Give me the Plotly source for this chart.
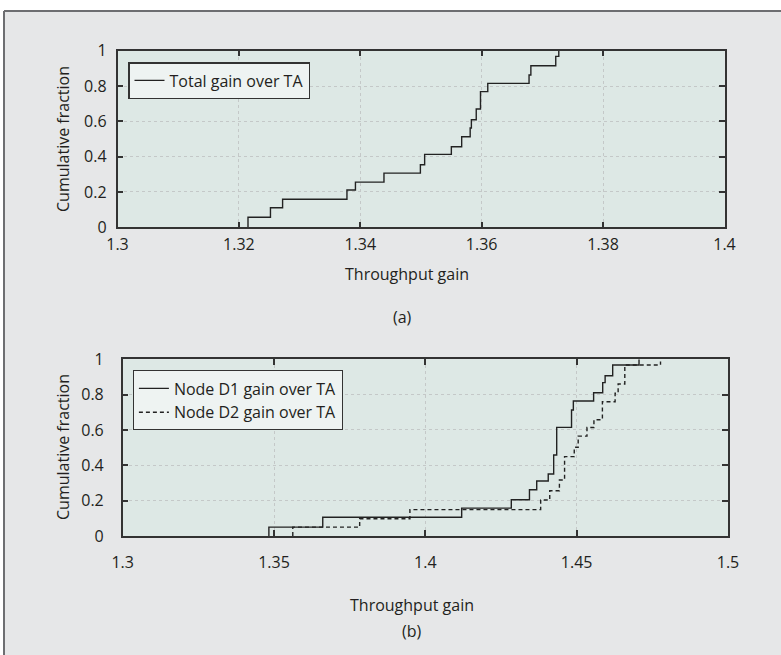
import plotly.graph_objects as go

# ---- data ----
top_gain = [1.3215, 1.3252, 1.3272, 1.3378, 1.3392, 1.3439, 1.3499, 1.3506, 1.3550, 1.3567,
            1.3581, 1.3583, 1.3591, 1.3598, 1.3610, 1.3678, 1.3681, 1.3722, 1.3727]
top_frac = [0.057, 0.111, 0.159, 0.211, 0.256, 0.307, 0.354, 0.413, 0.456, 0.513,
            0.562, 0.609, 0.67, 0.768, 0.815, 0.862, 0.915, 0.968, 1.0]

d1_gain = [1.3483, 1.3661, 1.4120, 1.4284, 1.4344, 1.4368, 1.4406, 1.4424, 1.4434, 1.4483,
           1.4489, 1.4556, 1.4586, 1.4594, 1.4619, 1.4706]
d1_frac = [0.05, 0.106, 0.158, 0.205, 0.262, 0.311, 0.351, 0.458, 0.615, 0.713,
           0.764, 0.811, 0.868, 0.907, 0.968, 1.0]

d2_gain = [1.3562, 1.3783, 1.3949, 1.4381, 1.4411, 1.4443, 1.4460, 1.4492, 1.4505, 1.4534,
           1.4557, 1.4585, 1.4627, 1.4637, 1.4659, 1.4777]
d2_frac = [0.05, 0.098, 0.149, 0.204, 0.256, 0.317, 0.449, 0.502, 0.565, 0.614,
           0.658, 0.76, 0.808, 0.86, 0.968, 0.988]

top_xticks = [1.3, 1.32, 1.34, 1.36, 1.38, 1.4]
bot_xticks = [1.3, 1.35, 1.4, 1.45, 1.5]
yticks = [0, 0.2, 0.4, 0.6, 0.8, 1]

W, H = 781, 655
FONT = "Open Sans"
TXT = "#231f20"
AX = "#333333"
GRID = "#c4c8c8"


def px_x(p):
    return p / W


def px_y(p):
    return 1 - p / H


def step(xs, ys):
    return [xs[0]] + list(xs), [0] + list(ys)


fig = go.Figure()

x, y = step(top_gain, top_frac)
fig.add_trace(go.Scatter(x=x, y=y, mode="lines", line=dict(color="#222222", width=1.4, shape="hv"),
                         name="Total gain over TA", xaxis="x", yaxis="y", legend="legend"))
x, y = step(d1_gain, d1_frac)
fig.add_trace(go.Scatter(x=x, y=y, mode="lines", line=dict(color="#222222", width=1.4, shape="hv"),
                         name="Node D1 gain over TA", xaxis="x2", yaxis="y2", legend="legend2"))
x, y = step(d2_gain, d2_frac)
fig.add_trace(go.Scatter(x=x, y=y, mode="lines",
                         line=dict(color="#222222", width=1.4, shape="hv", dash="4px,3px"),
                         name="Node D2 gain over TA", xaxis="x2", yaxis="y2", legend="legend2"))

common_axis = dict(showline=True, linecolor=AX, linewidth=1.5, mirror="ticks",
                   ticks="inside", ticklen=6, tickwidth=1.5, tickcolor=AX,
                   showgrid=True, gridcolor=GRID, griddash="dot", gridwidth=1,
                   zeroline=False, tickfont=dict(family=FONT, size=16, color=TXT),
                   fixedrange=True, automargin=False)

fig.update_layout(
    width=W, height=H,
    margin=dict(l=0, r=0, t=0, b=0, pad=0, autoexpand=False),
    paper_bgcolor="#e6e7e8",
    plot_bgcolor="#dde8e5",
    font=dict(family=FONT, size=16, color=TXT),
    xaxis=dict(common_axis, domain=[px_x(117.5), px_x(724.5)], range=[1.3, 1.4],
               tickvals=top_xticks, anchor="y", ticklabelstandoff=2),
    yaxis=dict(common_axis, domain=[px_y(227.3), px_y(50.7)], range=[0, 1],
               tickvals=yticks, anchor="x", ticklabelstandoff=6),
    xaxis2=dict(common_axis, domain=[px_x(122.7), px_x(728)], range=[1.3, 1.5],
                tickvals=bot_xticks, anchor="y2", ticklabelstandoff=11),
    yaxis2=dict(common_axis, domain=[px_y(536), px_y(359.3)], range=[0, 1],
                tickvals=yticks, anchor="x2", ticklabelstandoff=14),
    legend=dict(x=px_x(128.3), y=px_y(62.3), xanchor="left", yanchor="top",
                bgcolor="#eef3f2", bordercolor="#333333", borderwidth=1.2,
                font=dict(family=FONT, size=16, color=TXT)),
    legend2=dict(x=px_x(132.7), y=px_y(370.3), xanchor="left", yanchor="top",
                 bgcolor="#eef3f2", bordercolor="#333333", borderwidth=1.2,
                 font=dict(family=FONT, size=16, color=TXT), tracegroupgap=0),
    showlegend=True,
)

# outer frame: white strips above / left of the frame, dark top and left borders
fig.add_shape(type="rect", xref="paper", yref="paper",
              x0=0, x1=1, y0=px_y(11), y1=1,
              fillcolor="white", line=dict(width=0), layer="below")
fig.add_shape(type="rect", xref="paper", yref="paper",
              x0=0, x1=px_x(4), y0=0, y1=1,
              fillcolor="white", line=dict(width=0), layer="below")
fig.add_shape(type="line", xref="paper", yref="paper",
              x0=px_x(4), x1=1, y0=px_y(11), y1=px_y(11),
              line=dict(color="#6d6e71", width=2), layer="below")
fig.add_shape(type="line", xref="paper", yref="paper",
              x0=px_x(4), x1=px_x(4), y0=0, y1=px_y(11),
              line=dict(color="#6d6e71", width=2), layer="below")

ann = dict(xref="paper", yref="paper", showarrow=False,
           font=dict(family=FONT, size=16, color=TXT))
fig.add_annotation(ann, x=px_x(407), y=px_y(274.3), text="Throughput gain",
                   xanchor="center", yanchor="middle")
fig.add_annotation(ann, x=px_x(402), y=px_y(317.3), text="(a)", xanchor="center", yanchor="middle")
fig.add_annotation(ann, x=px_x(412), y=px_y(604.7), text="Throughput gain",
                   xanchor="center", yanchor="middle")
fig.add_annotation(ann, x=px_x(412), y=px_y(631), text="(b)", xanchor="center", yanchor="middle")
fig.add_annotation(ann, x=px_x(63), y=px_y(139), text="Cumulative fraction", textangle=-90,
                   xanchor="center", yanchor="middle")
fig.add_annotation(ann, x=px_x(63), y=px_y(447), text="Cumulative fraction", textangle=-90,
                   xanchor="center", yanchor="middle")

fig.write_html(
    "out.html",
    config={"displayModeBar": False},
    post_script="document.body.style.margin='0';document.body.style.padding='0';"
                "document.body.style.overflow='hidden';",
)
